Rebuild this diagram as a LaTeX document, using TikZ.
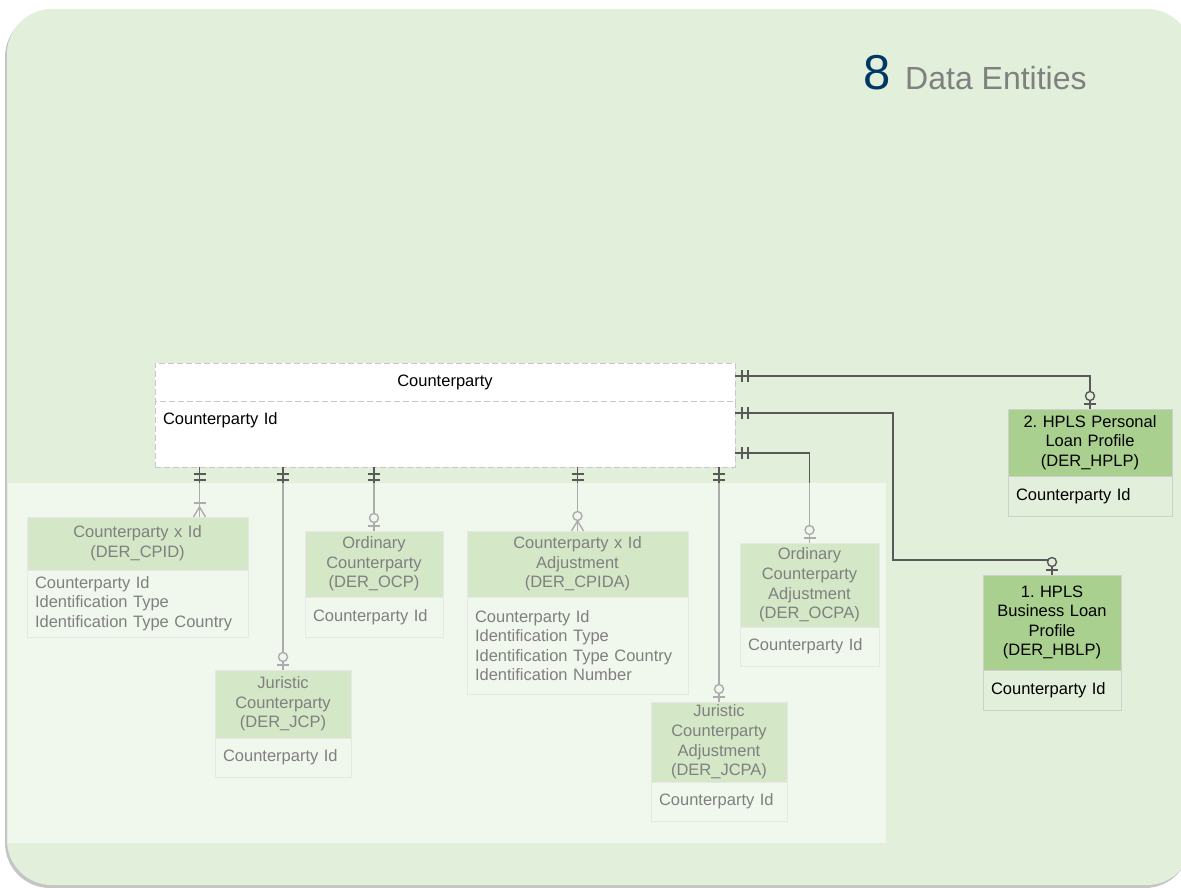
\documentclass[tikz,border=0pt]{standalone}
\usepackage{fontspec}
\setmainfont{Liberation Sans}
\usetikzlibrary{positioning, shadows, decorations.markings}
\definecolor{bggreen}{HTML}{E2EFDA}
\definecolor{hdgreen}{HTML}{A9D08E}
\definecolor{linkgray}{HTML}{595959}
\definecolor{boxline}{HTML}{CFCFCF}
\definecolor{navy}{HTML}{003865}
\definecolor{titlegray}{HTML}{808080}

\tikzset{
  head/.style 2 args={draw=boxline, line width=1pt, fill=hdgreen, anchor=north west,
    outer sep=0pt, inner xsep=8pt, inner ysep=3pt, text width=#1, minimum height=#2, align=center},
  attr/.style 2 args={draw=boxline, line width=1pt, fill=bggreen, outer sep=0pt,
    inner xsep=8pt, inner ysep=3pt, text width=#1, minimum height=#2, align=left},
  dashbox/.style={draw=black!22, line width=1pt, dash pattern=on 6pt off 3pt, fill=white,
    outer sep=0pt, inner xsep=8pt, text width=564pt},
  link/.style={draw=linkgray, line width=1.6pt},
  mk/.style={draw=linkgray, line width=1.4pt},
  oneonly start/.style={postaction={decorate, decoration={markings,
    mark=at position 7pt with {\draw[mk] (0,-6pt) -- (0,6pt);},
    mark=at position 13pt with {\draw[mk] (0,-6pt) -- (0,6pt);}}}},
  zeroone end/.style={postaction={decorate, decoration={markings,
    mark=at position -13pt with {\draw[mk, fill=bggreen] (0,0) circle (4.5pt);},
    mark=at position -5pt with {\draw[mk] (0,-6pt) -- (0,6pt);}}}},
  onemany end/.style={postaction={decorate, decoration={markings,
    mark=at position -14pt with {\draw[mk] (0,-6pt) -- (0,6pt);},
    mark=at position -0.1pt with {\draw[mk] (-10pt,0) -- (0,6pt) (-10pt,0) -- (0,-6pt);}}}},
  zeromany end/.style={postaction={decorate, decoration={markings,
    mark=at position -15pt with {\draw[mk, fill=bggreen] (0,0) circle (4.5pt);},
    mark=at position -0.1pt with {\draw[mk] (-10pt,0) -- (0,6pt) (-10pt,0) -- (0,-6pt);}}}}
}

\begin{document}
\begin{tikzpicture}[x=1pt, y=-1pt, font=\fontsize{16.5pt}{19.6pt}\selectfont]
    \clip (0,0) rectangle (1181,887);
    \fill[white] (0,0) rectangle (1181,887);
    \path[fill=bggreen, rounded corners=45pt,
      drop shadow={shadow xshift=-2pt, shadow yshift=-3pt, opacity=.45}] (7,9) rectangle (1192,885);

    % title
    \node (num) [anchor=base west, inner sep=0pt, text=navy, font=\fontsize{49pt}{49pt}\selectfont] at (863,89) {8};
    \node (ttl) [anchor=base west, inner sep=0pt, text=titlegray, font=\fontsize{32pt}{32pt}\selectfont] at (905,89) {Data Entities};

    % main entity
    \node (cp) [dashbox, anchor=north west, align=center, minimum height=38pt] at (155,363) {Counterparty};
    \node (cpattr) [dashbox, below=0pt of cp, align=left, inner ysep=5pt, text height=18pt, text depth=38pt] {Counterparty Id};

    % related entities
    \node (cpidh) [head={205pt}{53pt}] at (27,517) {Counterparty x Id\\(DER\_CPID)};
    \node (cpidb) [attr={205pt}{67pt}, below=0pt of cpidh] {Counterparty Id\\Identification Type\\Identification Type Country};
    \node (ocph) [head={122pt}{66pt}] at (305,531) {Ordinary\\Counterparty\\(DER\_OCP)};
    \node (ocpb) [attr={122pt}{40pt}, below=0pt of ocph] {Counterparty Id};
    \node (jcph) [head={120pt}{68pt}] at (215,670) {Juristic\\Counterparty\\(DER\_JCP)};
    \node (jcpb) [attr={120pt}{39pt}, below=0pt of jcph] {Counterparty Id};
    \node (cpidah) [head={205pt}{66pt}] at (467,531) {Counterparty x Id\\Adjustment\\(DER\_CPIDA)};
    \node (cpidab) [attr={205pt}{97pt}, below=0pt of cpidah] {Counterparty Id\\Identification Type\\Identification Type Country\\Identification Number};
    \node (jcpah) [head={120pt}{79pt}] at (651,702) {Juristic\\Counterparty\\Adjustment\\(DER\_JCPA)};
    \node (jcpab) [attr={120pt}{39pt}, below=0pt of jcpah] {Counterparty Id};
    \node (ocpah) [head={123pt}{84pt}] at (740,543) {Ordinary\\Counterparty\\Adjustment\\(DER\_OCPA)};
    \node (ocpab) [attr={123pt}{39pt}, below=0pt of ocpah] {Counterparty Id};
    \node (hplph) [head={148pt}{67pt}] at (1008,409) {2.\ HPLS Personal\\Loan Profile\\(DER\_HPLP)};
    \node (hplpb) [attr={148pt}{40pt}, below=0pt of hplph] {Counterparty Id};
    \node (hblph) [head={122pt}{95pt}] at (983,575) {1.\ HPLS\\Business Loan\\Profile\\(DER\_HBLP)};
    \node (hblpb) [attr={122pt}{40pt}, below=0pt of hblph] {Counterparty Id};

    % relationships
    \coordinate (cpidin) at ([xshift=62pt]cpidh.north);
    \coordinate (ocpaout) at ([yshift=-19pt]cpattr.east);
    \coordinate (hblpout) at ([yshift=21pt]cpattr.east);
    \coordinate (hplpout) at ([yshift=6pt]cp.east);
    \draw[link, oneonly start, onemany end] (cpidin |- cpattr.south) -- (cpidin);
    \draw[link, oneonly start, zeroone end] (jcph.north |- cpattr.south) -- (jcph.north);
    \draw[link, oneonly start, zeroone end] (ocph.north |- cpattr.south) -- (ocph.north);
    \draw[link, oneonly start, zeromany end] (cpidah.north |- cpattr.south) -- (cpidah.north);
    \draw[link, oneonly start, zeroone end] (jcpah.north |- cpattr.south) -- (jcpah.north);
    \draw[link, oneonly start, zeroone end] (ocpaout) -| (ocpah.north);
    \draw[link, oneonly start, zeroone end] (hblpout) -- ++(158,0) |- ([yshift=15pt]hblph.north) -- (hblph.north);
    \draw[link, oneonly start, zeroone end] (hplpout) -| (hplph.north);

    % faded area
    \fill[white, opacity=.5] (8,483) rectangle (886,843);
\end{tikzpicture}
\end{document}
